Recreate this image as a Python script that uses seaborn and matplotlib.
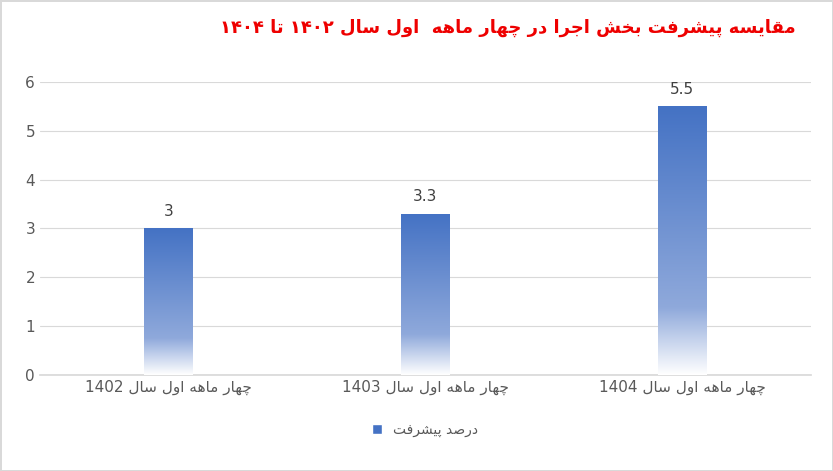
import numpy as np
import pandas as pd
import matplotlib
matplotlib.use("Agg")
import matplotlib.pyplot as plt
import seaborn as sns
from matplotlib.patches import Patch
from matplotlib.colors import LinearSegmentedColormap

# presentation forms: isolated, final, initial, medial (None = does not join left)
FORMS = {
    "ا": (0xFE8D, 0xFE8E, None, None),
    "ب": (0xFE8F, 0xFE90, 0xFE91, 0xFE92),
    "پ": (0xFB56, 0xFB57, 0xFB58, 0xFB59),
    "ت": (0xFE95, 0xFE96, 0xFE97, 0xFE98),
    "ج": (0xFE9D, 0xFE9E, 0xFE9F, 0xFEA0),
    "چ": (0xFB7A, 0xFB7B, 0xFB7C, 0xFB7D),
    "خ": (0xFEA5, 0xFEA6, 0xFEA7, 0xFEA8),
    "د": (0xFEA9, 0xFEAA, None, None),
    "ر": (0xFEAD, 0xFEAE, None, None),
    "س": (0xFEB1, 0xFEB2, 0xFEB3, 0xFEB4),
    "ش": (0xFEB5, 0xFEB6, 0xFEB7, 0xFEB8),
    "ص": (0xFEB9, 0xFEBA, 0xFEBB, 0xFEBC),
    "ف": (0xFED1, 0xFED2, 0xFED3, 0xFED4),
    "ق": (0xFED5, 0xFED6, 0xFED7, 0xFED8),
    "ل": (0xFEDD, 0xFEDE, 0xFEDF, 0xFEE0),
    "م": (0xFEE1, 0xFEE2, 0xFEE3, 0xFEE4),
    "ه": (0xFEE9, 0xFEEA, 0xFEEB, 0xFEEC),
    "و": (0xFEED, 0xFEEE, None, None),
    "ی": (0xFBFC, 0xFBFD, 0xFBFE, 0xFBFF),
}


def shape_word(w):
    out = []
    for i, ch in enumerate(w):
        if ch not in FORMS:
            out.append(ch)
            continue
        prev = w[i - 1] if i > 0 else None
        nxt = w[i + 1] if i + 1 < len(w) else None
        join_prev = prev in FORMS and FORMS[prev][2] is not None
        join_next = nxt in FORMS and FORMS[ch][2] is not None
        iso, fin, ini, med = FORMS[ch]
        if join_prev and join_next:
            c = med
        elif join_prev:
            c = fin
        elif join_next:
            c = ini
        else:
            c = iso
        out.append(chr(c))
    return "".join(out)


def fa(s):
    # shape letters, then put in visual (left-to-right) order
    words = s.split(" ")
    shaped = [shape_word(w)[::-1] if any(c in FORMS for c in w) else w for w in words]
    return " ".join(shaped[::-1])


categories = ["چهار ماهه اول سال 1402", "چهار ماهه اول سال 1403", "چهار ماهه اول سال 1404"]
values = [3, 3.3, 5.5]
value_labels = ["3", "3.3", "5.5"]
series_name = "درصد پیشرفت"
title = "مقایسه پیشرفت بخش اجرا در چهار ماهه  اول سال ۱۴۰۲ تا ۱۴۰۴"

sns.set_theme(style="white")
plt.rcParams['font.family'] = ['DejaVu Sans']

df = pd.DataFrame({"cat": [fa(c) for c in categories], "val": values})

fig = plt.figure(figsize=(8.33, 4.71), dpi=100)
ax = fig.add_axes([0.048, 0.204, 0.925, 0.622])
sns.barplot(data=df, x="cat", y="val", color="#4472C4", width=0.19, ax=ax)

cmap = LinearSegmentedColormap.from_list("g", [(0, "#ffffff"), (0.25, "#8fa9db"), (1, "#4472C4")])
grad = np.linspace(0, 1, 256).reshape(-1, 1)
for p in ax.patches:
    x0, w, h = p.get_x(), p.get_width(), p.get_height()
    im = ax.imshow(grad, cmap=cmap, aspect="auto", origin="lower",
                   extent=[x0, x0 + w, 0, h], zorder=3)
    im.set_clip_path(p)
    p.set_alpha(0)
for i, (v, lab) in enumerate(zip(values, value_labels)):
    ax.text(i, v + 0.2, lab, ha="center", va="bottom", fontsize=11, color="#404040")

ax.set_xlim(-0.5, 2.5)
ax.set_ylim(0, 6)
ax.set_yticks(range(7))
ax.yaxis.grid(True, color="#d9d9d9", lw=0.8)
ax.set_axisbelow(True)
for s in ["top", "right", "left"]:
    ax.spines[s].set_visible(False)
ax.spines["bottom"].set_color("#d9d9d9")
ax.tick_params(axis="both", labelsize=11, colors="#595959", length=0)
ax.set_xlabel("")
ax.set_ylabel("")

fig.text(0.955, 0.94, fa(title), ha="right", va="center", color="#ee0000",
         fontsize=13, fontweight="bold")
ax.legend(handles=[Patch(facecolor="#4472C4")], labels=[fa(series_name)],
          loc="upper center", bbox_to_anchor=(0.5, -0.12), frameon=False,
          fontsize=10, labelcolor="#595959", handlelength=0.7, handleheight=0.7)

fig.patch.set_edgecolor("#d9d9d9")
fig.patch.set_linewidth(1)
fig.savefig("out.png", dpi=100)
